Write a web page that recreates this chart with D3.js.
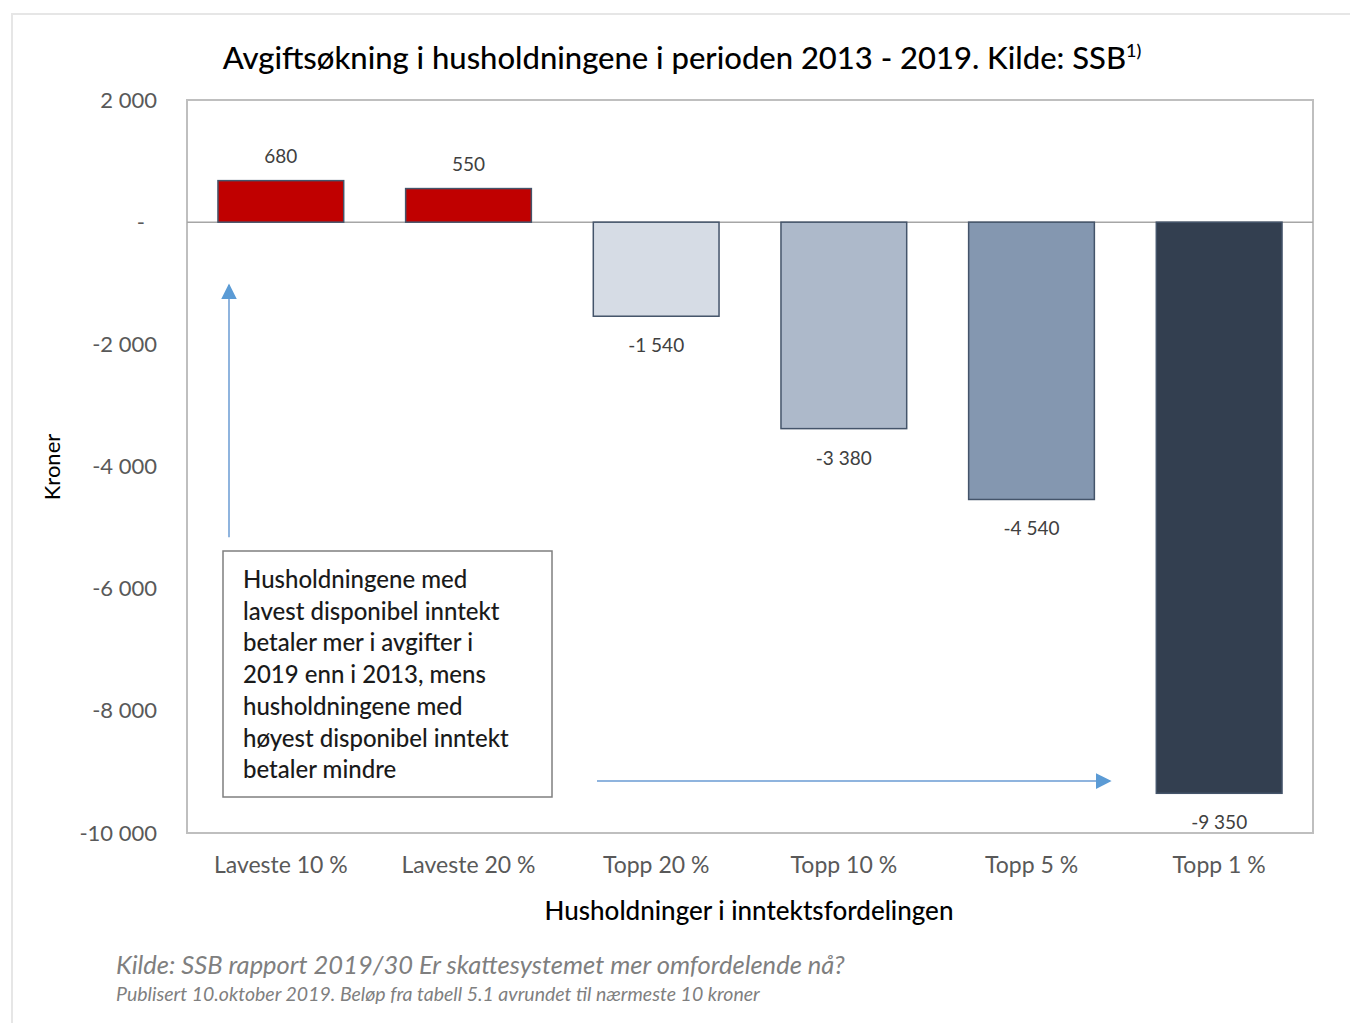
<!DOCTYPE html>
<html>
<head>
<meta charset="utf-8">
<script src="https://cdn.jsdelivr.net/npm/d3@7"></script>
<style>
  body { margin: 0; background: #fff; }
  svg { display: block; }
</style>
</head>
<body>
<svg width="1350" height="1023"></svg>
<script>
// chart data
const categories = ['Laveste 10 %', 'Laveste 20 %', 'Topp 20 %', 'Topp 10 %', 'Topp 5 %', 'Topp 1 %'];
const values = [680, 550, -1540, -3380, -4540, -9350];
const barColors = ['#c00000', '#c00000', '#d6dce5', '#adb9ca', '#8497b0', '#333f50'];
const yTicks = [2000, 0, -2000, -4000, -6000, -8000, -10000];
const noteLines = [
  'Husholdningene med',
  'lavest disponibel inntekt',
  'betaler mer i avgifter i',
  '2019 enn i 2013, mens',
  'husholdningene med',
  'høyest disponibel inntekt',
  'betaler mindre'
];

const font = 'Lato, "Open Sans", sans-serif';
const margin = {top: 100, right: 37, bottom: 190, left: 187};
const svg = d3.select('svg');
const w = +svg.attr('width') - margin.left - margin.right;
const h = +svg.attr('height') - margin.top - margin.bottom;

// faint outer frame
svg.append('path')
  .attr('d', 'M12,1023 V14 H1350')
  .attr('fill', 'none')
  .attr('stroke', '#e6e6e6')
  .attr('stroke-width', 2);

// inner padding 0.33, outer half of it so each band is w/6 wide
const x = d3.scaleBand().domain(categories).range([0, w]).paddingInner(0.33).paddingOuter(0.165);
const y = d3.scaleLinear().domain([-10000, 2000]).range([h, 0]);

// norwegian style: space as thousands separator, plain hyphen for minus
const fmtLabel = v => d3.format(',')(v).replace(/,/g, ' ').replace('\u2212', '-');

const g = svg.append('g').attr('transform', `translate(${margin.left},${margin.top})`);

// plot frame
g.append('rect')
  .attr('width', w).attr('height', h)
  .attr('fill', 'none').attr('stroke', '#bfbfbf').attr('stroke-width', 2);

// y axis labels
const yAxis = g.append('g')
  .call(d3.axisLeft(y).tickValues(yTicks).tickSize(0).tickPadding(30)
    .tickFormat(v => v === 0 ? '-' : fmtLabel(v)));
yAxis.select('.domain').remove();
yAxis.selectAll('text')
  .attr('font-family', font).attr('font-size', 22).attr('fill', '#595959')
  // accounting style: the zero dash sits a little in from the right edge
  .attr('dx', d => d === 0 ? -12 : 0);

// zero line
g.append('line')
  .attr('x1', 0).attr('x2', w).attr('y1', y(0)).attr('y2', y(0))
  .attr('stroke', '#a6a6a6').attr('stroke-width', 1.5);

// bars
g.selectAll('.bar')
  .data(values)
  .enter().append('rect')
  .attr('class', 'bar')
  .attr('x', (d, i) => x(categories[i]))
  .attr('width', x.bandwidth())
  .attr('y', d => y(Math.max(0, d)))
  .attr('height', d => Math.abs(y(d) - y(0)))
  .attr('fill', (d, i) => barColors[i])
  .attr('stroke', '#44546a')
  .attr('stroke-width', 1.5);

// data labels
g.selectAll('.lbl')
  .data(values)
  .enter().append('text')
  .attr('x', (d, i) => x(categories[i]) + x.bandwidth() / 2)
  .attr('y', d => d > 0 ? y(d) - 18 : y(d) + 36)
  .attr('text-anchor', 'middle')
  .attr('font-family', font).attr('font-size', 19).attr('fill', '#404040')
  .text(fmtLabel);

// x axis labels
const xAxis = g.append('g')
  .attr('transform', `translate(0,${h})`)
  .call(d3.axisBottom(x).tickSize(0).tickPadding(24));
xAxis.select('.domain').remove();
xAxis.selectAll('text')
  .attr('font-family', font).attr('font-size', 23).attr('fill', '#595959');

// axis titles
svg.append('text')
  .attr('x', 749).attr('y', 920)
  .attr('text-anchor', 'middle')
  .attr('font-family', font).attr('font-size', 26).attr('font-weight', 500).attr('fill', '#000')
  .text('Husholdninger i inntektsfordelingen');

svg.append('text')
  .attr('transform', 'translate(60,467) rotate(-90)')
  .attr('text-anchor', 'middle')
  .attr('font-family', font).attr('font-size', 22).attr('fill', '#000')
  .text('Kroner');

// title
const title = svg.append('text')
  .attr('x', 682).attr('y', 69)
  .attr('text-anchor', 'middle')
  .attr('font-family', font).attr('font-size', 31).attr('font-weight', 500).attr('fill', '#000');
title.append('tspan').text('Avgiftsøkning i husholdningene i perioden 2013 - 2019. Kilde: SSB');
title.append('tspan').attr('font-size', 18).attr('dy', -12).text('1)');

// annotation box
const note = g.append('g').attr('transform', `translate(36,451)`);
note.append('rect')
  .attr('width', 329).attr('height', 246)
  .attr('fill', '#fff').attr('stroke', '#7f7f7f').attr('stroke-width', 1.5);
note.selectAll('text')
  .data(noteLines)
  .enter().append('text')
  .attr('x', 20).attr('y', (d, i) => 37 + i * 31.7)
  .attr('font-family', font).attr('font-size', 24).attr('font-weight', 500).attr('fill', '#1a1a1a')
  .text(d => d);

// arrows
const defs = svg.append('defs');
defs.append('marker')
  .attr('id', 'arr').attr('viewBox', '0 0 10 10')
  .attr('refX', 9).attr('refY', 5)
  .attr('markerWidth', 16).attr('markerHeight', 16)
  .attr('markerUnits', 'userSpaceOnUse')
  .attr('orient', 'auto')
  .append('path').attr('d', 'M0,0 L10,5 L0,10 Z').attr('fill', '#5b9bd5');

g.append('line')
  .attr('x1', 42).attr('x2', 42)
  .attr('y1', y(-5160)).attr('y2', y(-1030))
  .attr('stroke', '#8fb4de').attr('stroke-width', 2)
  .attr('marker-end', 'url(#arr)');

g.append('line')
  .attr('x1', 410).attr('x2', 923)
  .attr('y1', y(-9150)).attr('y2', y(-9150))
  .attr('stroke', '#8fb4de').attr('stroke-width', 2)
  .attr('marker-end', 'url(#arr)');

// source notes
svg.append('text')
  .attr('x', 116).attr('y', 974)
  .attr('font-family', font).attr('font-style', 'italic')
  .attr('font-size', 25.5).attr('fill', '#7f7f7f')
  .text('Kilde: SSB rapport 2019/30 Er skattesystemet mer omfordelende nå?');
svg.append('text')
  .attr('x', 116).attr('y', 1001)
  .attr('font-family', font).attr('font-style', 'italic')
  .attr('font-size', 19.5).attr('fill', '#7f7f7f')
  .text('Publisert 10.oktober 2019. Beløp fra tabell 5.1 avrundet til nærmeste 10 kroner');
</script>
</body>
</html>
